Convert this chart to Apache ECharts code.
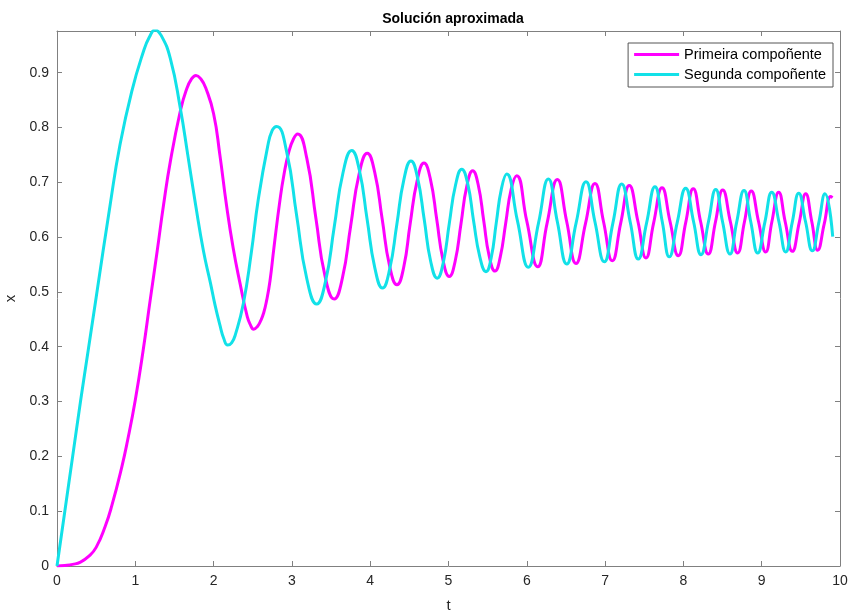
<!DOCTYPE html>
<html>
<head>
<meta charset="utf-8">
<script src="https://cdn.jsdelivr.net/npm/echarts@6/dist/echarts.min.js"></script>
<style>
html,body{margin:0;padding:0;background:#fff;}
#main{width:851px;height:612px;}
</style>
</head>
<body>
<div id="main"></div>
<script>
// (t, x)
const primeiraT = [0,0.1,0.2,0.3,0.4,0.5,0.615,0.7,0.828,0.9,1.0,1.1,1.19,1.28,1.361,1.45,1.575,1.65,1.72,1.775,1.84,1.9,2.0,2.08,2.164,2.25,2.337,2.43,2.47,2.512,2.56,2.6,2.64,2.678,2.72,2.77,2.848,2.9,2.96,3.02,3.074,3.19,3.307,3.42,3.54,3.646,3.75,3.857,3.963,4.058,4.153,4.247,4.342,4.428,4.51,4.6,4.687,4.77,4.85,4.93,5.01,5.085,5.16,5.234,5.309,5.38,5.45,5.52,5.594,5.66,5.73,5.8,5.871,6.0,6.139,6.26,6.39,6.51,6.628,6.75,6.871,6.98,7.092,7.2,7.309,7.42,7.522,7.62,7.727,7.83,7.935,8.03,8.126,8.22,8.318,8.41,8.502,8.6,8.693,8.78,8.867,8.96,9.051,9.13,9.217,9.3,9.391,9.48,9.562,9.64,9.715,9.8,9.881,9.905];
const primeiraX = [0,0.001,0.003,0.007,0.017,0.034,0.072,0.11,0.181,0.228,0.303,0.393,0.485,0.575,0.659,0.74,0.83,0.868,0.889,0.895,0.888,0.872,0.825,0.75,0.659,0.58,0.516,0.455,0.44,0.432,0.437,0.447,0.462,0.485,0.52,0.58,0.668,0.715,0.755,0.779,0.788,0.744,0.634,0.531,0.487,0.526,0.62,0.714,0.753,0.718,0.633,0.548,0.513,0.545,0.624,0.703,0.735,0.705,0.632,0.558,0.528,0.556,0.625,0.693,0.721,0.695,0.63,0.565,0.538,0.563,0.625,0.687,0.712,0.629,0.546,0.626,0.705,0.628,0.552,0.625,0.698,0.628,0.557,0.626,0.694,0.628,0.562,0.626,0.69,0.628,0.566,0.627,0.688,0.628,0.569,0.628,0.686,0.628,0.571,0.628,0.684,0.628,0.573,0.628,0.682,0.628,0.574,0.627,0.679,0.628,0.576,0.625,0.674,0.672];

const segundaT = [0,0.1,0.2,0.3,0.4,0.5,0.68,0.8,0.955,1.105,1.18,1.252,1.33,1.447,1.575,1.67,1.77,1.87,1.96,2.02,2.08,2.13,2.18,2.23,2.28,2.38,2.48,2.57,2.69,2.75,2.806,2.934,3.06,3.189,3.317,3.429,3.54,3.652,3.764,3.862,3.96,4.059,4.157,4.248,4.34,4.43,4.521,4.605,4.69,4.772,4.856,4.934,5.01,5.09,5.169,5.246,5.32,5.4,5.479,5.545,5.61,5.677,5.743,5.88,6.019,6.15,6.275,6.39,6.51,6.63,6.756,6.87,6.99,7.1,7.212,7.32,7.424,7.53,7.637,7.73,7.82,7.92,8.029,8.13,8.225,8.32,8.413,8.5,8.595,8.68,8.774,8.86,8.949,9.04,9.128,9.22,9.307,9.39,9.473,9.56,9.646,9.73,9.808,9.907];
const segundaX = [0,0.1,0.2,0.3,0.395,0.49,0.66,0.765,0.866,0.939,0.965,0.978,0.968,0.926,0.835,0.75,0.659,0.575,0.516,0.475,0.44,0.415,0.403,0.407,0.423,0.479,0.57,0.668,0.765,0.795,0.802,0.755,0.64,0.525,0.478,0.519,0.618,0.717,0.758,0.722,0.633,0.544,0.507,0.541,0.623,0.705,0.739,0.708,0.632,0.556,0.525,0.554,0.625,0.695,0.724,0.697,0.63,0.564,0.537,0.562,0.626,0.689,0.715,0.63,0.545,0.626,0.706,0.628,0.551,0.626,0.701,0.628,0.555,0.626,0.697,0.628,0.56,0.626,0.692,0.628,0.564,0.626,0.689,0.628,0.568,0.628,0.687,0.628,0.569,0.627,0.685,0.628,0.571,0.627,0.682,0.628,0.573,0.627,0.68,0.628,0.575,0.627,0.679,0.601];

const seriesNames = ['Primeira compoñente','Segunda compoñente'];
const titleText = 'Solución aproximada';
const xName = 't';
const yName = 'x';

const xMin = 0, xMax = 10, xStep = 1;
const yMin = 0, yMax = 0.976, yStep = 0.1;

const FONT = '"Liberation Sans", Arial, Helvetica, sans-serif';
const AXC = '#808080';
const TXT = '#262626';

function zip(a, b){ return a.map((v,i)=>[v,b[i]]); }

const chart = echarts.init(document.getElementById('main'), null, {renderer:'canvas'});

const baseX = {
  type:'value', min:xMin, max:xMax, interval:xStep,
  axisLine:{show:true, onZero:false, lineStyle:{color:AXC, width:1}},
  axisTick:{show:true, inside:true, length:5, lineStyle:{color:AXC}},
  splitLine:{show:false}
};
const baseY = {
  type:'value', min:yMin, max:yMax, interval:yStep,
  axisLine:{show:true, onZero:false, lineStyle:{color:AXC, width:1}},
  axisTick:{show:true, inside:true, length:5, lineStyle:{color:AXC}},
  splitLine:{show:false}
};

chart.setOption({
  animation:false,
  backgroundColor:'#fff',
  textStyle:{fontFamily:FONT},
  title:{
    text:titleText, left:448, top:7, textAlign:'center',
    textStyle:{fontFamily:FONT, fontSize:14, fontWeight:'bold', color:'#000'}
  },
  grid:{left:57, right:11, top:31, bottom:46, containLabel:false, outerBoundsMode:'none'},
  legend:{
    orient:'vertical', right:18, top:43,
    data:seriesNames,
    icon:'rect', itemWidth:45, itemHeight:3, itemGap:5,
    backgroundColor:'#fff', borderColor:'#555', borderWidth:1,
    padding:[4,7,5,6],
    textStyle:{fontFamily:FONT, fontSize:14.5, color:'#000'}
  },
  xAxis:[
    Object.assign({}, baseX, {
      position:'bottom', name:xName, nameLocation:'middle', nameGap:32,
      nameTextStyle:{fontFamily:FONT, fontSize:15, color:TXT},
      axisLabel:{fontFamily:FONT, fontSize:14, color:TXT, margin:8}
    }),
    Object.assign({}, baseX, {position:'top', axisLabel:{show:false}})
  ],
  yAxis:[
    Object.assign({}, baseY, {
      position:'left', name:yName, nameLocation:'middle', nameGap:38,
      nameTextStyle:{fontFamily:FONT, fontSize:15, color:TXT},
      axisLabel:{fontFamily:FONT, fontSize:14, color:TXT, margin:8, showMaxLabel:false}
    }),
    Object.assign({}, baseY, {position:'right', axisLabel:{show:false}})
  ],
  series:[
    {
      name:seriesNames[0], type:'line', xAxisIndex:0, yAxisIndex:0,
      data:zip(primeiraT, primeiraX), showSymbol:false, smooth:0.5,
      lineStyle:{color:'#ff00ff', width:3}, itemStyle:{color:'#ff00ff'}
    },
    {
      name:seriesNames[1], type:'line', xAxisIndex:0, yAxisIndex:0,
      data:zip(segundaT, segundaX), showSymbol:false, smooth:0.5,
      lineStyle:{color:'#12e1e8', width:3}, itemStyle:{color:'#12e1e8'}
    }
  ]
});
</script>
</body>
</html>
